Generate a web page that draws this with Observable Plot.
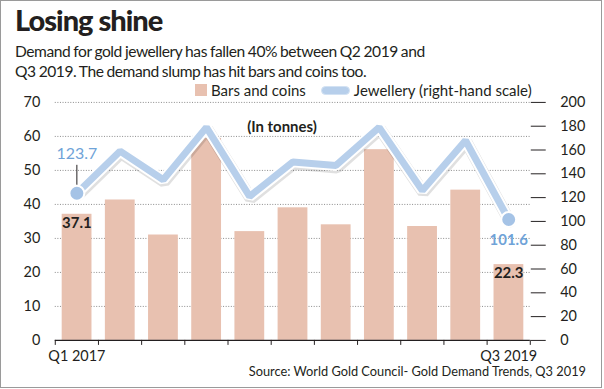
<!DOCTYPE html>
<html>
<head>
<meta charset="utf-8">
<script src="https://cdn.jsdelivr.net/npm/d3@7"></script>
<script src="https://cdn.jsdelivr.net/npm/@observablehq/plot@0.6"></script>
<style>
  html, body { margin: 0; padding: 0; background: #fff; }
  #frame { position: relative; width: 600px; height: 386px; border: 1.5px solid #9a9a9a; background: #fff; font-family: Lato, "Open Sans", sans-serif; color: #231f20; overflow: hidden; }
  #title { position: absolute; left: 14px; top: 1px; font-size: 29px; font-weight: 900; letter-spacing: -1px; white-space: nowrap; }
  #subtitle { position: absolute; left: 14px; top: 40px; font-size: 15.6px; letter-spacing: -0.45px; word-spacing: -0.5px; line-height: 20px; white-space: nowrap; }
  #legend { position: absolute; left: 194px; top: 80px; font-size: 15px; white-space: nowrap; display: flex; align-items: center; }
  .sw1 { display: inline-block; width: 12px; height: 12px; background: #e8c1b0; margin-right: 4px; }
  .sw2 { display: inline-block; width: 27px; height: 7px; background: #b7cfeb; border: 1px solid #d3e2f3; border-radius: 5px; margin: 0 4px 0 15px; }
  #source { position: absolute; right: 15px; top: 362px; font-size: 12.8px; white-space: nowrap; }
  #chart { position: absolute; left: -1.5px; top: 78.5px; }
</style>
</head>
<body>
<div id="frame">
  <div id="title">Losing shine</div>
  <div id="subtitle">Demand for gold jewellery has fallen 40% between Q2 2019 and<br>Q3 2019. The demand slump has hit bars and coins too.</div>
  <div id="legend"><span class="sw1"></span>Bars and coins<span class="sw2"></span>Jewellery (right-hand scale)</div>
  <div id="chart"></div>
  <div id="source">Source: World Gold Council- Gold Demand Trends, Q3 2019</div>
</div>
<script>
const quarters = ["Q1 2017","Q2 2017","Q3 2017","Q4 2017","Q1 2018","Q2 2018","Q3 2018","Q4 2018","Q1 2019","Q2 2019","Q3 2019"];
const barsCoins = [37.1, 41.3, 31.0, 59.4, 32.0, 39.0, 34.0, 56.1, 33.5, 44.2, 22.3];
const jewellery = [123.7, 159, 135, 179, 121, 150, 147, 179, 126, 168, 101.6];
const leftTicks = [0, 10, 20, 30, 40, 50, 60, 70];
const rightTicks = [0, 20, 40, 60, 80, 100, 120, 140, 160, 180, 200];
const xLabels = ["Q1 2017", "Q3 2019"];

const k = 70 / 200; // right scale -> left scale
const data = quarters.map((q, i) => ({q, i, bars: barsCoins[i], jew: jewellery[i], jy: jewellery[i] * k}));
const first = data[0], last = data[data.length - 1];
const labelIdx = xLabels.map(l => quarters.indexOf(l) + 0.5);

const chart = Plot.plot({
  width: 604, height: 290,
  marginTop: 22, marginBottom: 29, marginLeft: 55, marginRight: 72,
  x: {domain: [0, quarters.length]},
  y: {domain: [0, 70]},
  style: {fontFamily: "Lato, sans-serif", fontSize: "14.5px", color: "#231f20", background: "transparent"},
  marks: [
    Plot.gridY(leftTicks.filter(d => d > 0), {stroke: "#8a8a8a", strokeOpacity: 1, strokeDasharray: "1,1.6"}),
    Plot.rectY(data, {x1: d => d.i + 0.16, x2: d => d.i + 0.85, y: "bars", fill: "#e8c1b0"}),
    Plot.axisY(leftTicks, {anchor: "left", tickSize: 0, tickPadding: 15}),
    Plot.axisY(rightTicks.map(d => d * k), {anchor: "right", tickSize: 15, tickPadding: 15, tickFormat: d => Math.round(d / k), stroke: "#231f20"}),
    Plot.ruleY([0], {stroke: "#231f20", strokeWidth: 1.2}),
    Plot.axisX(d3.range(0, quarters.length + 1), {tickSize: 5, tickFormat: () => "", stroke: "#231f20"}),
    Plot.axisX(labelIdx, {tickSize: 0, tickPadding: 10, tickFormat: d => quarters[Math.floor(d)], fontSize: 14.5}),
    // line with shadow and white halo
    Plot.line(data, {x: d => d.i + 0.5, y: "jy", stroke: "#000", strokeOpacity: 0.12, strokeWidth: 12, dx: 1, dy: 2, strokeLinejoin: "miter"}),
    Plot.line(data, {x: d => d.i + 0.5, y: "jy", stroke: "#fff", strokeWidth: 11, strokeLinejoin: "miter"}),
    Plot.line(data, {x: d => d.i + 0.5, y: "jy", stroke: "#b7cfeb", strokeWidth: 7, strokeLinejoin: "miter"}),
    // leader line for first label
    Plot.ruleX([first], {x: d => d.i + 0.5, y1: d => d.jy + 2.3, y2: d => d.jy + 8.2, stroke: "#231f20", strokeWidth: 1}),
    Plot.dot([first, last], {x: d => d.i + 0.5, y: "jy", r: 7.5, fill: "#a5c3e6", stroke: "#fff", strokeWidth: 2}),
    Plot.text([first], {x: d => d.i + 0.5, y: "jy", text: d => d.jew.toFixed(1), dy: -39, fill: "#6fa3d8", fontSize: 16}),
    Plot.text([last], {x: d => d.i + 0.5, y: "jy", text: d => d.jew.toFixed(1), dy: 21, fill: "#6fa3d8", fontSize: 15, fontWeight: "bold"}),
    Plot.text([first, last], {x: d => d.i + 0.5, y: "bars", text: d => d.bars.toFixed(1), dy: 9, fill: "#231f20", fontSize: 15, fontWeight: "bold"}),
    Plot.text(["(In tonnes)"], {x: 5.25, y: 62.7, text: d => d, fontSize: 15, fontWeight: "bold", fill: "#231f20"})
  ]
});
document.getElementById("chart").appendChild(chart);
</script>
</body>
</html>
